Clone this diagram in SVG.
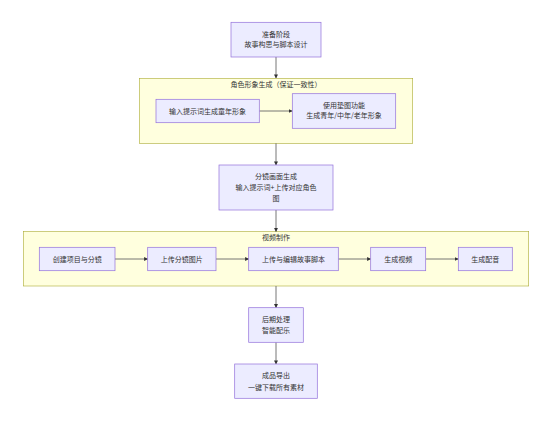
<svg xmlns="http://www.w3.org/2000/svg" width="551" height="421" viewBox="0 0 551 421">
<defs>
<style>
.node rect{fill:#ECECFF;stroke:#9370DB;stroke-width:0.7}
.cluster rect{fill:#ffffde;stroke:#aaaa33;stroke-width:0.6}
text{font-family:"Noto Sans CJK SC","Noto Sans",sans-serif;font-size:7px;fill:#333;text-anchor:middle}
.edges line{stroke:#666;stroke-width:0.9;fill:none}
</style>
<marker id="arr" viewBox="0 0 10 10" refX="9" refY="5" markerWidth="4" markerHeight="4" orient="auto" markerUnits="userSpaceOnUse">
<path d="M0,0 L10,5 L0,10 z" fill="#333"/>
</marker>
</defs>
<rect width="551" height="421" fill="#fff"/>
<g id="cluster-role" class="cluster">
<rect x="139.3" y="78.3" width="273.4" height="65"/>
<text x="276" y="86.5">角色形象生成（保证一致性）</text>
</g>
<g id="cluster-video" class="cluster">
<rect x="23.3" y="231.5" width="505.4" height="54.5"/>
<text x="276" y="239.5">视频制作</text>
</g>
<g class="edges" id="edges">
<line x1="276" y1="57" x2="276" y2="78" marker-end="url(#arr)"/>
<line x1="259.3" y1="111" x2="292.3" y2="111" marker-end="url(#arr)"/>
<line x1="276" y1="143.3" x2="276" y2="165" marker-end="url(#arr)"/>
<line x1="276" y1="210" x2="276" y2="231.5" marker-end="url(#arr)"/>
<line x1="115" y1="259" x2="147.7" y2="259" marker-end="url(#arr)"/>
<line x1="216" y1="259" x2="248.7" y2="259" marker-end="url(#arr)"/>
<line x1="338.3" y1="259" x2="370.7" y2="259" marker-end="url(#arr)"/>
<line x1="425.7" y1="259" x2="458.3" y2="259" marker-end="url(#arr)"/>
<line x1="276" y1="286" x2="276" y2="307.7" marker-end="url(#arr)"/>
<line x1="276" y1="342.3" x2="276" y2="364" marker-end="url(#arr)"/>
</g>
<g id="prep" class="node">
<rect x="231" y="22.3" width="90" height="34.7"/>
<text x="276" y="36.5">准备阶段</text>
<text x="276" y="46.8">故事构思与脚本设计</text>
</g>
<g id="child" class="node">
<rect x="156" y="99.3" width="103.3" height="23.4"/>
<text x="207.6" y="113.5">输入提示词生成童年形象</text>
</g>
<g id="pad" class="node">
<rect x="292.3" y="93.7" width="103.4" height="34.6"/>
<text x="344" y="107.5">使用垫图功能</text>
<text x="344" y="118.2">生成青年/中年/老年形象</text>
</g>
<g id="storyboard" class="node">
<rect x="219" y="165" width="114" height="45"/>
<text x="276" y="179.2">分镜画面生成</text>
<text x="276" y="189.8">输入提示词+上传对应角色</text>
<text x="276" y="200.5">图</text>
</g>
<g id="create" class="node">
<rect x="39.3" y="247.3" width="75.7" height="23.4"/>
<text x="77.2" y="261.5">创建项目与分镜</text>
</g>
<g id="upload-img" class="node">
<rect x="147.7" y="247.3" width="68.3" height="23.4"/>
<text x="181.8" y="261.5">上传分镜图片</text>
</g>
<g id="script" class="node">
<rect x="248.7" y="247.3" width="89.6" height="23.4"/>
<text x="293.5" y="261.5">上传与编辑故事脚本</text>
</g>
<g id="gen-video" class="node">
<rect x="370.7" y="247.3" width="55" height="23.4"/>
<text x="398.2" y="261.5">生成视频</text>
</g>
<g id="gen-audio" class="node">
<rect x="458.3" y="247.3" width="54" height="23.4"/>
<text x="485.3" y="261.5">生成配音</text>
</g>
<g id="post" class="node">
<rect x="248.7" y="307.7" width="54.6" height="34.6"/>
<text x="276" y="321.8">后期处理</text>
<text x="276" y="333.2">智能配乐</text>
</g>
<g id="export" class="node">
<rect x="234.7" y="364" width="82.6" height="34.3"/>
<text x="276" y="378.2">成品导出</text>
<text x="276" y="389.8">一键下载所有素材</text>
</g>
</svg>
